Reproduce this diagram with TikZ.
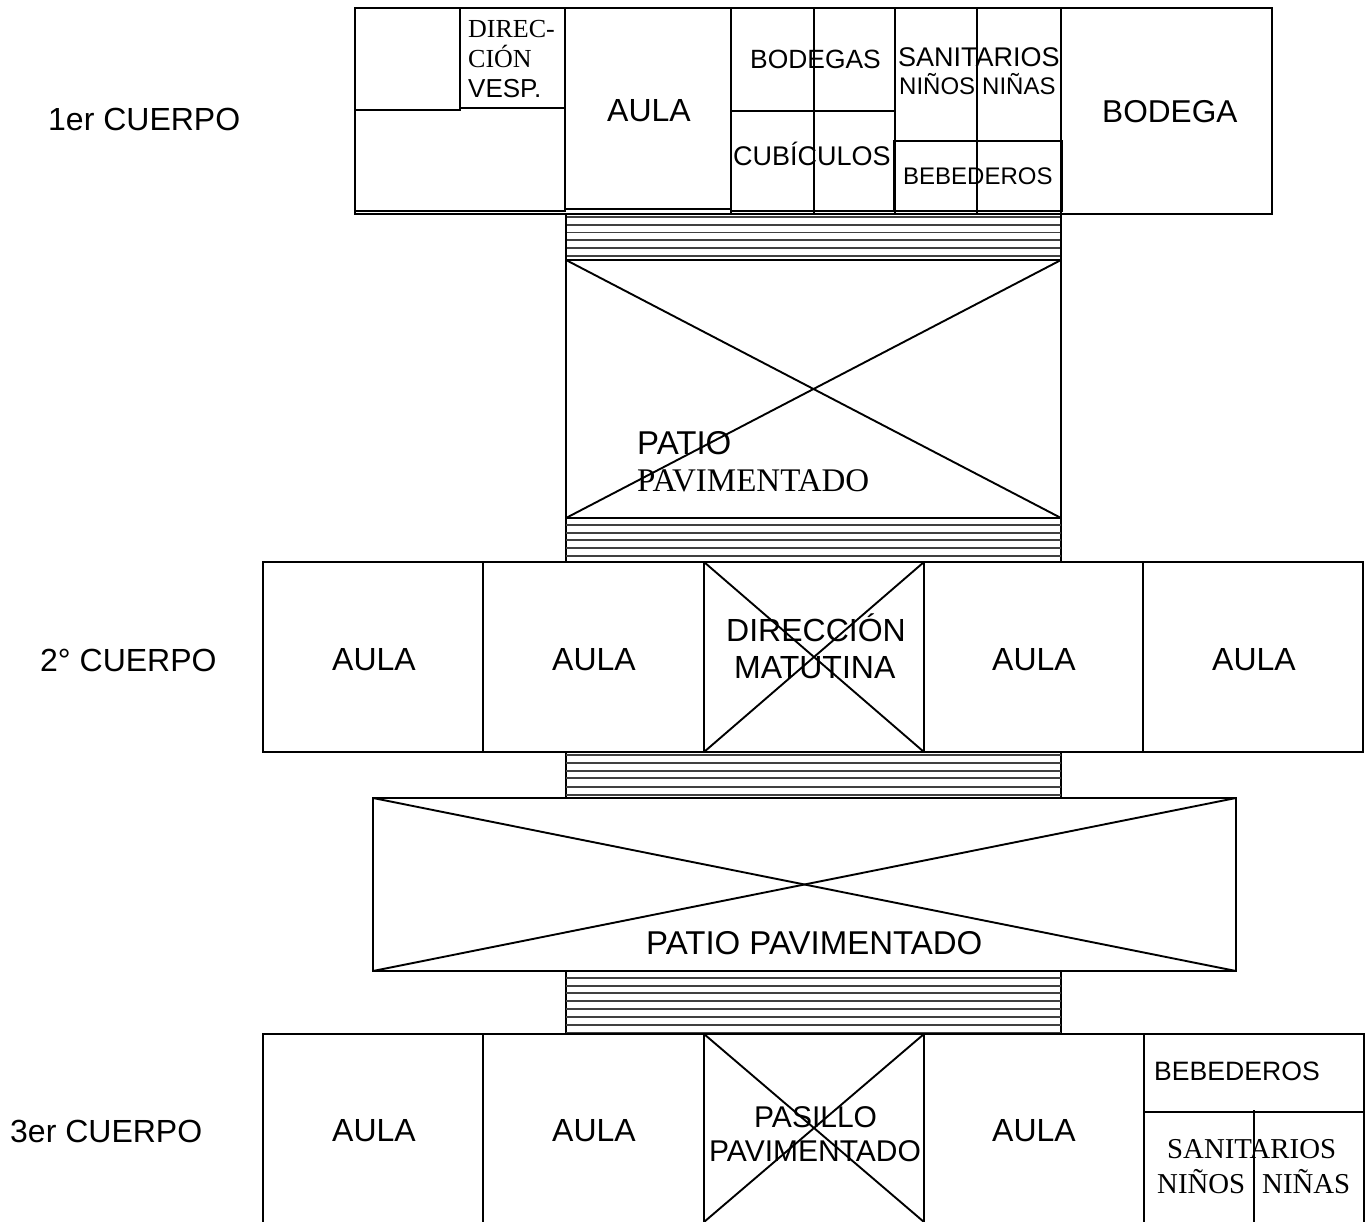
\documentclass[tikz,border=0pt]{standalone}
\usepackage{fontspec}
\setmainfont{Liberation Sans}
\newfontfamily\serifx{Liberation Serif}
\tikzset{
  wall/.style={draw=black,line width=1.9pt},
  stripe/.style={draw=black!75,line width=1.9pt},
  lab/.style={inner sep=0pt,align=left,anchor=base west},
}
\newcommand{\fsz}[1]{\fontsize{#1}{#1}\selectfont}
\begin{document}
\begin{tikzpicture}[x=1pt,y=-1pt]
\useasboundingbox (0,0) rectangle (1368,1222);
\fill[white] (0,0) rectangle (1368,1222);
% first body
\draw[wall] (355,8) rectangle (1272,214);
\draw[wall] (355,211) -- (565,211);
\draw[wall] (355,110) -- (460,110) -- (460,108) -- (565,108);
\draw[wall] (460,8) -- (460,110);
\draw[wall] (565,8) -- (565,212);
\draw[wall] (566,209) -- (731,209);
\draw[wall] (731,8) -- (731,214);
\draw[wall] (814,8) -- (814,214);
\draw[wall] (731,111) -- (895,111);
\draw[wall] (731,211) -- (895,211);
\draw[wall] (895,8) -- (895,214);
\draw[wall] (977,8) -- (977,214);
\draw[wall] (1061,8) -- (1061,214);
\draw[wall] (894,141) rectangle (1062,211);
% stripes 1
\foreach \y in {217,225,232.5,240,248,256}{\draw[stripe] (566,\y) -- (1061,\y);}
% patio 1
\draw[wall] (566,214) rectangle (1061,562);
\draw[wall] (566,260) -- (1061,260);
\draw[wall] (566,518) -- (1061,518);
\draw[wall] (566,260) -- (1061,518);
\draw[wall] (566,518) -- (1061,260);
\foreach \y in {525,532.7,540.3,548.3,556}{\draw[stripe] (566,\y) -- (1061,\y);}
% second body
\draw[wall] (263,562) rectangle (1363,752);
\foreach \x in {483,704,924,1143}{\draw[wall] (\x,562) -- (\x,752);}
\draw[wall] (704,562) -- (924,752);
\draw[wall] (704,752) -- (924,562);
% stripes 2
\draw[wall] (566,752) -- (566,798);
\draw[wall] (1061,752) -- (1061,798);
\foreach \y in {755,763.3,771,778.3,786.7,795}{\draw[stripe] (566,\y) -- (1061,\y);}
% patio 2
\draw[wall] (373,798) rectangle (1236,971);
\draw[wall] (373,798) -- (1236,971);
\draw[wall] (373,971) -- (1236,798);
% stripes 3
\draw[wall] (566,971) -- (566,1034);
\draw[wall] (1061,971) -- (1061,1034);
\foreach \y in {978.3,985.7,993.3,1001,1009,1016.7,1025,1032.5}{\draw[stripe] (566,\y) -- (1061,\y);}
% third body
\draw[wall] (263,1222) -- (263,1034) -- (1364,1034) -- (1364,1222);
\foreach \x in {483,704,924,1144}{\draw[wall] (\x,1034) -- (\x,1222);}
\draw[wall] (704,1034) -- (924,1222);
\draw[wall] (704,1222) -- (924,1034);
\draw[wall] (1144,1112) -- (1364,1112);
\draw[wall] (1254,1110) -- (1254,1222);
% labels
\node[lab,font=\fsz{32}] (c1) at (48,131) {1er CUERPO};
\node[lab,font=\fsz{32}] (c2) at (40,671) {2° CUERPO};
\node[lab,font=\fsz{32}] (c3) at (10,1142) {3er CUERPO};
\node[lab,font=\serifx\fsz{26}] (d1) at (468,38) {DIREC-};
\node[lab,font=\serifx\fsz{26}] (d2) at (468,68) {CIÓN};
\node[lab,font=\fsz{26}] (d3) at (468,98) {VESP.};
\node[lab,font=\fsz{32}] (a0) at (607,122) {AULA};
\node[lab,font=\fsz{26.4}] (bd) at (750,69) {BODEGAS};
\node[lab,font=\fsz{27}] (cu) at (733,166) {CUBÍCULOS};
\node[lab,font=\fsz{27}] (sa) at (898,67) {SANITARIOS};
\node[lab,font=\fsz{24}] (ni) at (899,95) {NIÑOS};
\node[lab,font=\fsz{24}] (na) at (982,95) {NIÑAS};
\node[lab,font=\fsz{24}] (be) at (903,185) {BEBEDEROS};
\node[lab,font=\fsz{31.6}] (bg) at (1102,123) {BODEGA};
\node[lab,font=\fsz{33}] (p1) at (637,454) {PATIO};
\node[lab,font=\serifx\fsz{33}] (p2) at (637,491) {PAVIMENTADO};
\node[lab,font=\fsz{32}] (a1) at (332,670) {AULA};
\node[lab,font=\fsz{32}] (a2) at (552,670) {AULA};
\node[lab,font=\fsz{32}] (dm1) at (726,641) {DIRECCIÓN};
\node[lab,font=\fsz{32}] (dm2) at (734,678) {MATUTINA};
\node[lab,font=\fsz{32}] (a3) at (992,670) {AULA};
\node[lab,font=\fsz{32}] (a4) at (1212,670) {AULA};
\node[lab,font=\fsz{33}] (pp) at (646,954) {PATIO PAVIMENTADO};
\node[lab,font=\fsz{32}] (a5) at (332,1141) {AULA};
\node[lab,font=\fsz{32}] (a6) at (552,1141) {AULA};
\node[lab,font=\fsz{30}] (pa1) at (754,1127) {PASILLO};
\node[lab,font=\fsz{30}] (pa2) at (709,1161) {PAVIMENTADO};
\node[lab,font=\fsz{32}] (a7) at (992,1141) {AULA};
\node[lab,font=\fsz{26.6}] (be2) at (1154,1080) {BEBEDEROS};
\node[lab,font=\serifx\fsz{28.8}] (sa2) at (1167,1158) {SANITARIOS};
\node[lab,font=\serifx\fsz{28.8}] (ni2) at (1157,1193) {NIÑOS};
\node[lab,font=\serifx\fsz{28.8}] (na2) at (1262,1193) {NIÑAS};
\end{tikzpicture}
\end{document}
